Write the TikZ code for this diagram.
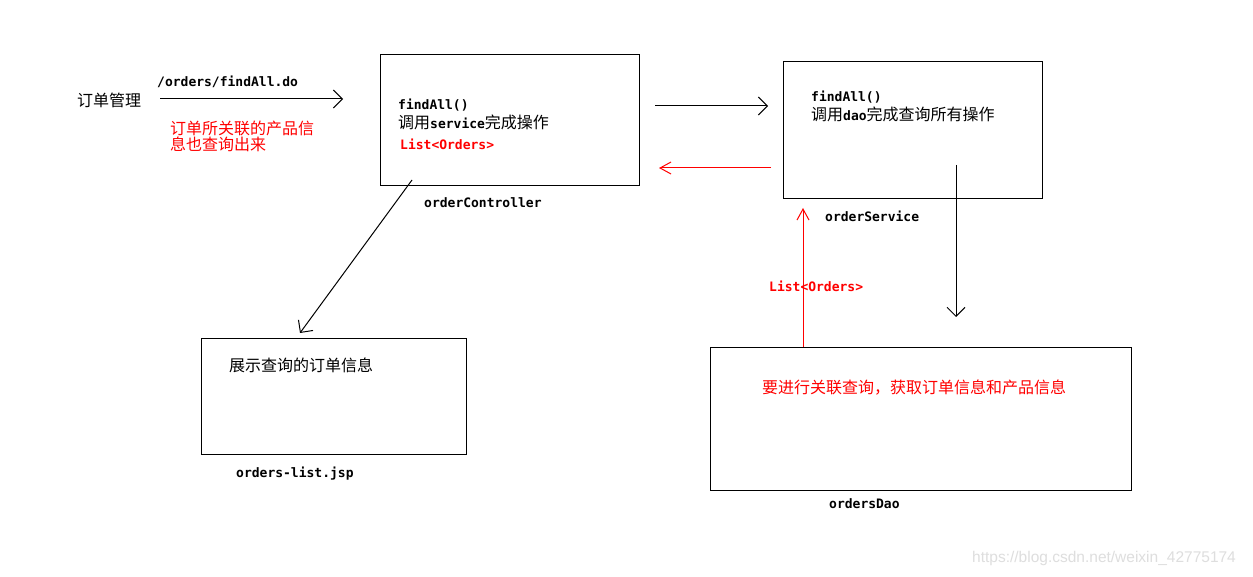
\documentclass[tikz,border=0pt]{standalone}
\usepackage{fontspec}
\setmainfont{Noto Sans CJK SC}
\newfontfamily\cjkf{Noto Sans CJK SC}
\newfontfamily\monof{DejaVu Sans Mono}
\newfontfamily\wmf{Liberation Sans}
\usetikzlibrary{arrows.meta}
\definecolor{redc}{RGB}{255,0,0}
\definecolor{wmc}{RGB}{222,222,222}
\tikzset{
  box/.style={draw=black, line width=1pt, inner sep=0pt},
  cn/.style={inner sep=0pt, anchor=west, font=\cjkf\fontsize{16}{17}\selectfont},
  mn/.style={inner sep=0pt, anchor=west, font=\monof\bfseries\fontsize{13}{14}\selectfont},
  barb/.style={line width=1pt, -{Straight Barb[length=9pt,width=18pt,line width=1pt]}},
  rbarb/.style={line width=1pt, draw=redc, -{Straight Barb[length=11pt,width=12pt,line width=1pt]}},
}
\begin{document}
\begin{tikzpicture}[x=1pt,y=-1pt]
\useasboundingbox (0,0) rectangle (1253,577);
\fill[white] (0,0) rectangle (1253,577);
% boxes
\node[box, minimum width=259pt, minimum height=131pt] (ctrl) at (509.5,120.5) {};
\node[box, minimum width=259pt, minimum height=137pt] (svc) at (912.5,130.5) {};
\node[box, minimum width=265pt, minimum height=116pt] (jsp) at (333.5,396) {};
\node[box, minimum width=421pt, minimum height=143pt] (dao) at (920.5,418.5) {};
% texts
\node[cn] (t1) at (77,100) {订单管理};
\node[mn] (t2) at (157,82) {/orders/findAll.do};
\node[cn, text=redc, align=left, font=\cjkf\fontsize{16}{16}\selectfont] (t3) at (170,136) {订单所关联的产品信\\息也查询出来};
\node[mn] (c1) at (398,105) {findAll()};
\node[cn] (c2) at (398,122) {调用{\monof\bfseries\fontsize{13}{14}\selectfont service}完成操作};
\node[mn, text=redc] (c3) at (400,144) {List<Orders>};
\node[mn] (c4) at (424,203) {orderController};
\node[mn] (s1) at (811,97) {findAll()};
\node[cn] (s2) at (811,114) {调用{\monof\bfseries\fontsize{13}{14}\selectfont dao}完成查询所有操作};
\node[mn] (s3) at (825,216) {orderService};
\node[mn, text=redc] (s4) at (769,286) {List<Orders>};
\node[cn] (j1) at (229,365) {展示查询的订单信息};
\node[mn] (j2) at (236,474) {orders-list.jsp};
\node[cn, text=redc] (d1) at (762,388) {要进行关联查询，获取订单信息和产品信息};
\node[mn] (d2) at (829,504) {ordersDao};
\node[inner sep=0pt, anchor=west, text=wmc, font=\wmf\fontsize{15.5}{17}\selectfont] (wm) at (972,558) {https://blog.csdn.net/weixin\_42775174};
% connector ends
\coordinate (a1s) at (160,99);
\coordinate (a1e) at (343,99);
\coordinate (a2s) at (655,106);
\coordinate (a2e) at (768,106);
\coordinate (a3s) at (771,168);
\coordinate (a3e) at (659,168);
\coordinate (a4s) at (956,165);
\coordinate (a4e) at (956,317);
\coordinate (a5s) at (803,347);
\coordinate (a5e) at (803,208);
\coordinate (a6s) at (412,180);
\coordinate (a6e) at (300,333);
% connectors
\draw[barb] (a1s) -- (a1e);
\draw[barb] (a2s) -- (a2e);
\draw[rbarb] (a3s) -- (a3e);
\draw[barb] (a4s) -- (a4e);
\draw[rbarb] (a5s) -- (a5e);
\draw[barb] (a6s) -- (a6e);
\end{tikzpicture}
\end{document}
